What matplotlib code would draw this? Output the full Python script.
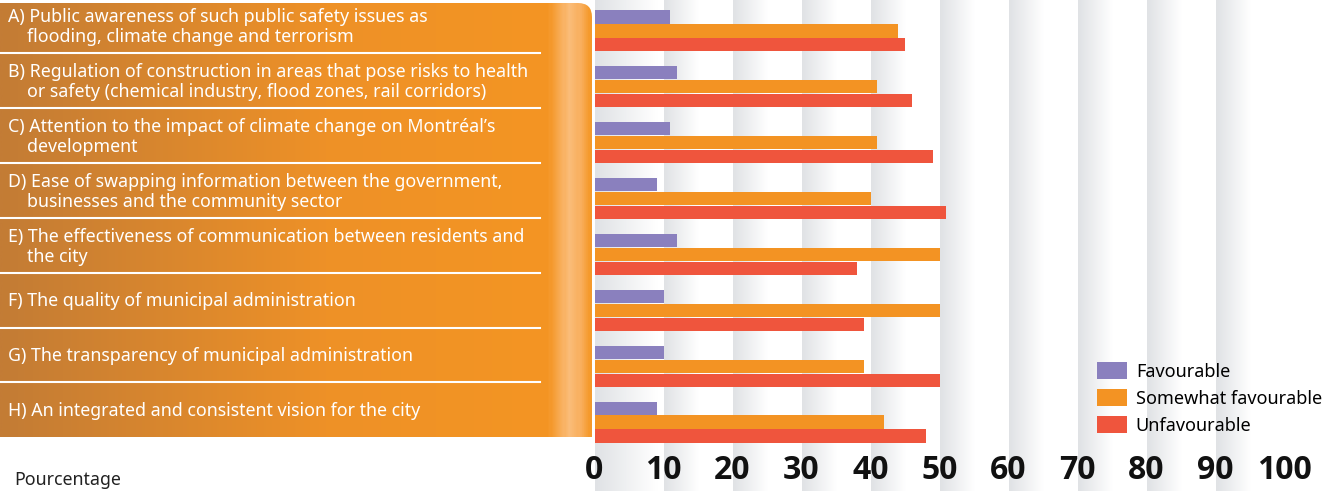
import numpy as np
import matplotlib.pyplot as plt
from matplotlib.colors import LinearSegmentedColormap
from matplotlib.patches import FancyBboxPatch, Patch

# Données
categories = [
    "A) Public awareness of such public safety issues as\nflooding, climate change and terrorism",
    "B) Regulation of construction in areas that pose risks to health\nor safety (chemical industry, flood zones, rail corridors)",
    "C) Attention to the impact of climate change on Montréal\u2019s\ndevelopment",
    "D) Ease of swapping information between the government,\n businesses and the community sector",
    "E) The effectiveness of communication between residents and\nthe city",
    "F) The quality of municipal administration",
    "G) The transparency of municipal administration",
    "H) An integrated and consistent vision for the city",
]
favourable = [11, 12, 11, 9, 12, 10, 10, 9]
somewhat = [44, 41, 41, 40, 50, 50, 39, 42]
unfavourable = [45, 46, 49, 51, 38, 39, 50, 48]
ticks = list(range(0, 101, 10))
series = ["Favourable", "Somewhat favourable", "Unfavourable"]
colors = ["#8a80be", "#f39323", "#ef553d"]

FONT = "Noto Sans"
W, H = 1330, 491
fig = plt.figure(figsize=(W / 100, H / 100), dpi=100)


def px_axes(x0, y0, x1, y1, z=0):
    # boîte en pixels, origine en haut à gauche
    return fig.add_axes([x0 / W, 1 - y1 / H, (x1 - x0) / W, (y1 - y0) / H], zorder=z)


X0, X1 = 594.5, 1284.5

# === Fond avec bandes grises ==========================================
bg = px_axes(X0, 0, X1, H, z=0)
bg.set_xlim(0, 100)
bg.set_ylim(0, 1)
bg.axis("off")
fade = LinearSegmentedColormap.from_list("fade", ["#e0e2e5", "#ffffff"])
grad = np.linspace(0, 1, 64).reshape(1, -1)
for t in ticks:
    width = 5 if t > 0 else 9
    bg.imshow(grad, cmap=fade, aspect="auto", extent=(t, t + width, 0, 1), zorder=0)

# === Barres ============================================================
ax = px_axes(X0, 3, X1, 450, z=2)
ax.patch.set_alpha(0)
y = np.arange(len(categories))
h = 0.235
ax.barh(y - 0.25, favourable, height=h, color=colors[0], label=series[0])
ax.barh(y, somewhat, height=h, color=colors[1], label=series[1])
ax.barh(y + 0.25, unfavourable, height=h, color=colors[2], label=series[2])
ax.set_xlim(0, 100)
ax.set_ylim(7.5, -0.5)
ax.set_yticks([])
ax.set_xticks(ticks)
ax.set_xticklabels([str(t) for t in ticks], fontsize=23, fontweight="bold",
                   family="Open Sans", color="#111111")
ax.tick_params(axis="x", length=0, pad=3)
for s in ax.spines.values():
    s.set_visible(False)

# === Panneau orange ====================================================
pan = px_axes(0, 0, 600, H, z=3)
pan.set_xlim(0, 600)
pan.set_ylim(H, 0)
pan.axis("off")
pan.patch.set_alpha(0)
orange = LinearSegmentedColormap.from_list(
    "orange",
    [(0, "#c37c35"), (0.55, "#ee9127"), (0.93, "#f49523"), (0.965, "#fbbd7a"),
     (0.985, "#f9ae5c"), (1, "#f59a2c")])
img = pan.imshow(np.linspace(0, 1, 300).reshape(1, -1), cmap=orange, aspect="auto",
                 extent=(0, 592, 437, 3), zorder=1)
box = FancyBboxPatch((-20, 3), 612, 470, boxstyle="round,pad=0,rounding_size=14",
                     facecolor="none", edgecolor="none", transform=pan.transData)
pan.add_patch(box)
img.set_clip_path(box)

bounds = [53 + 54.9 * k for k in range(7)]
for b in bounds:
    pan.plot([0, 540], [b, b], color="white", lw=1.5, zorder=2)

fs = 12.8
for i, lab in enumerate(categories):
    cy = 27 + 54.9 * i
    lines = lab.split("\n")
    if len(lines) == 1:
        pan.text(8, cy, lines[0], color="white", fontsize=fs, family=FONT,
                 va="center", ha="left", zorder=3)
    else:
        pan.text(8, cy - 10, lines[0], color="white", fontsize=fs, family=FONT,
                 va="center", ha="left", zorder=3)
        pan.text(27, cy + 10, lines[1].strip(), color="white", fontsize=fs, family=FONT,
                 va="center", ha="left", zorder=3)

fig.text(14 / W, 1 - 480 / H, "Pourcentage", fontsize=12.8, family=FONT,
         color="#222222", va="center", ha="left")

# === Légende ===========================================================
handles = [Patch(facecolor=c, edgecolor="none") for c in colors]
fig.legend(handles, series, loc="upper left", bbox_to_anchor=(1097 / W, 1 - 362 / H),
           frameon=False, prop={"family": FONT, "size": 13}, borderpad=0,
           borderaxespad=0, handlelength=1.65, handleheight=1.1,
           labelspacing=0.45, handletextpad=0.5)

plt.savefig("out.png", dpi=100)
